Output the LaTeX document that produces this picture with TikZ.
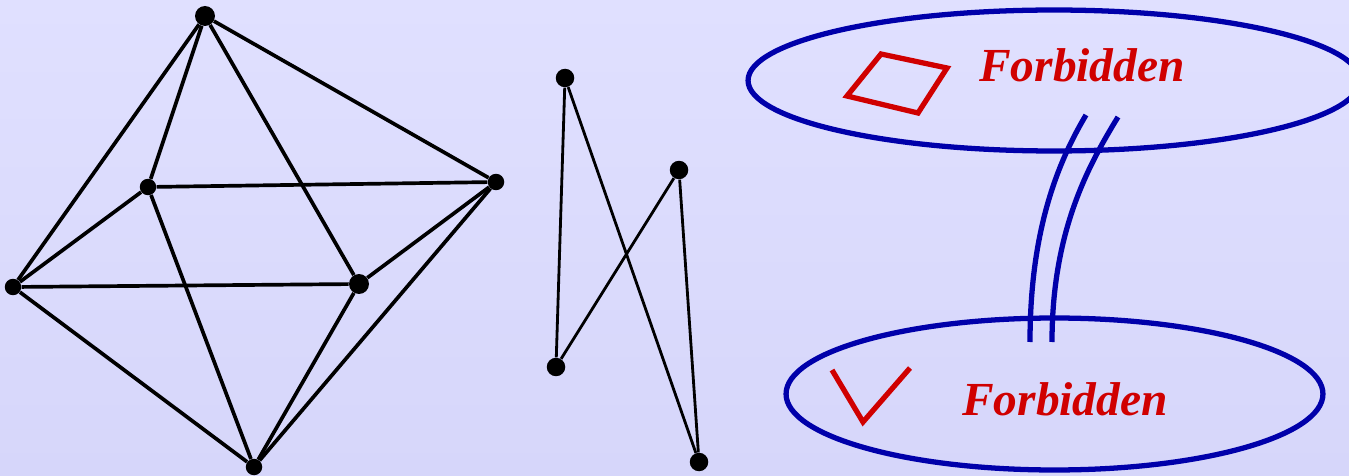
\documentclass[tikz,border=0pt]{standalone}
\usepackage{fontspec}
\setmainfont{Liberation Serif}
\usepackage{tikz}
\usetikzlibrary{positioning, calc}
\definecolor{BgTop}{RGB}{224,224,255}
\definecolor{BgBottom}{RGB}{214,214,250}
\definecolor{RingBlue}{RGB}{0,0,170}
\definecolor{ForbidRed}{RGB}{208,0,0}

\begin{document}
\begin{tikzpicture}[x=0.02cm,y=-0.02cm,
    vtx/.style={circle,fill=black,inner sep=0pt,minimum size=0.33cm},
    bigvtx/.style={vtx,minimum size=0.4cm},
    edg/.style={black,line width=2.1pt},
    thinedg/.style={black,line width=1.6pt},
    ring/.style={RingBlue,line width=3pt},
    shapeline/.style={ForbidRed,line width=3pt,line join=miter},
    lbl/.style={text=ForbidRed,font=\fontsize{27}{31}\selectfont\bfseries\itshape,
                anchor=base,inner sep=0pt}
  ]
  \useasboundingbox (0,0) rectangle (1349,476);
  \fill[top color=BgTop,bottom color=BgBottom] (0,0) rectangle (1349,476);

  % octahedron
  \node[bigvtx] (top)   at (205,16)  {};
  \node[vtx]    (inner) at (148,187) {};
  \node[vtx]    (right) at (496,182) {};
  \node[vtx]    (left)  at (13,287)  {};
  \node[bigvtx] (front) at (359,284) {};
  \node[vtx]    (bot)   at (254,467) {};
  \draw[edg] (top)--(left);
  \draw[edg] (top)--(inner);
  \draw[edg] (top)--(front);
  \draw[edg] (top)--(right);
  \draw[edg] (inner)--(right);
  \draw[edg] (inner)--(left);
  \draw[edg] (inner)--(bot);
  \draw[edg] (left)--(front);
  \draw[edg] (left)--(bot);
  \draw[edg] (front)--(right);
  \draw[edg] (front)--(bot);
  \draw[edg] (right)--(bot);

  % zigzag path
  \node[vtx,minimum size=0.37cm] (za) at (565,78)  {};
  \node[vtx,minimum size=0.37cm] (zb) at (679,170) {};
  \node[vtx,minimum size=0.37cm] (zc) at (556,367) {};
  \node[vtx,minimum size=0.37cm] (zd) at (699,462) {};
  \draw[thinedg] (za)--(zc);
  \draw[thinedg] (za)--(zd);
  \draw[thinedg] (zb)--(zc);
  \draw[thinedg] (zb)--(zd);

  % forbidden patterns
  \draw[ring] (1054,80.5) ellipse [x radius=6.12cm,y radius=1.41cm];
  \draw[ring] (1054.5,394) ellipse [x radius=5.37cm,y radius=1.52cm];
  \draw[ring] (1030,342) .. controls (1030,230) and (1058,162) .. (1086,115);
  \draw[ring] (1052,342) .. controls (1052,232) and (1088,166) .. (1118,117);

  \draw[shapeline] (881,54)--(947,68)--(918,113)--(847,96)--cycle;
  \draw[shapeline] (832,370)--(863,422)--(910,368);

  \node[lbl] (forbidtop) at (1082,82)  {Forbidden};
  \node[lbl] (forbidbot) at (1065,415) {Forbidden};
\end{tikzpicture}
\end{document}
